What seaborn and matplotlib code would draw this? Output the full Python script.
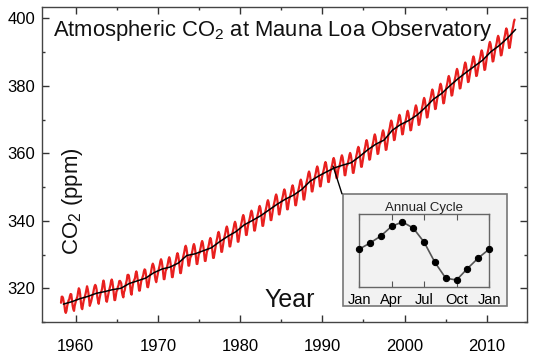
import numpy as np
import pandas as pd
import matplotlib
matplotlib.use('Agg')
import matplotlib.pyplot as plt
from matplotlib.patches import Rectangle, ConnectionPatch
from matplotlib.ticker import MultipleLocator
import seaborn as sns

# monthly mean CO2 (ppm), one row per year, Jan..Dec (1958 starts in March, 2013 ends in May)
years = list(range(1958, 2014))
monthly_co2 = [
    [None, None, 315.7, 317.5, 317.5, 317.1, 315.9, 314.9, 313.2, 312.7, 313.3, 314.7],  # 1958
    [315.6, 316.4, 316.7, 317.7, 318.3, 318.2, 316.5, 314.8, 313.8, 313.3, 314.8, 315.6],
    [316.4, 317.0, 317.6, 319.0, 320.0, 319.6, 318.2, 315.9, 314.2, 313.8, 315.0, 316.2],  # 1960
    [316.9, 317.7, 318.5, 319.5, 320.6, 319.8, 318.6, 316.8, 314.8, 315.4, 316.1, 317.0],
    [317.9, 318.6, 319.7, 320.6, 321.0, 320.6, 319.6, 317.4, 316.3, 315.4, 316.7, 317.7],
    [318.7, 319.1, 319.9, 321.4, 322.3, 321.5, 319.7, 317.8, 316.2, 316.0, 317.1, 318.3],
    [319.2, 320.0, 320.8, 322.0, 322.6, 322.0, 320.4, 318.3, 316.5, 316.5, 317.7, 319.1],
    [319.4, 320.4, 320.9, 322.1, 322.2, 321.9, 321.4, 318.8, 317.8, 317.3, 318.9, 319.4],
    [320.6, 321.6, 322.4, 323.9, 324.0, 323.8, 322.4, 320.4, 318.6, 318.1, 319.8, 321.1],
    [322.1, 322.5, 323.0, 324.4, 325.0, 324.1, 322.6, 320.9, 319.3, 319.3, 320.7, 322.0],
    [322.6, 323.2, 323.9, 325.0, 325.6, 325.4, 324.1, 322.0, 320.4, 320.3, 321.3, 322.8],
    [324.0, 324.4, 325.6, 326.7, 327.3, 326.8, 325.9, 323.7, 322.4, 321.8, 322.9, 324.1],
    [325.0, 325.9, 326.8, 328.0, 328.6, 328.0, 326.6, 324.5, 322.7, 322.7, 324.0, 325.5],  # 1970
    [325.6, 326.5, 327.4, 328.6, 329.2, 328.6, 327.2, 325.1, 323.3, 323.3, 324.6, 326.1],
    [326.8, 327.7, 328.6, 329.8, 330.4, 329.8, 328.4, 326.3, 324.5, 324.5, 325.8, 327.3],
    [329.0, 329.9, 330.8, 332.0, 332.6, 332.0, 330.6, 328.5, 326.7, 326.7, 328.0, 329.5],
    [329.5, 330.4, 331.3, 332.5, 333.1, 332.5, 331.1, 329.0, 327.2, 327.2, 328.5, 330.0],
    [330.4, 331.3, 332.2, 333.4, 334.0, 333.4, 332.0, 329.9, 328.1, 328.1, 329.4, 330.9],
    [331.3, 332.2, 333.1, 334.3, 334.9, 334.3, 332.9, 330.8, 329.0, 329.0, 330.3, 331.8],
    [333.1, 334.0, 334.9, 336.1, 336.7, 336.1, 334.7, 332.6, 330.8, 330.8, 332.1, 333.6],
    [334.7, 335.6, 336.5, 337.7, 338.3, 337.7, 336.3, 334.2, 332.4, 332.4, 333.7, 335.2],
    [336.1, 337.0, 337.9, 339.1, 339.7, 339.1, 337.7, 335.6, 333.8, 333.8, 335.1, 336.6],
    [338.1, 339.0, 339.9, 341.1, 341.7, 341.1, 339.7, 337.6, 335.8, 335.8, 337.1, 338.6],  # 1980
    [339.4, 340.3, 341.2, 342.4, 343.0, 342.4, 341.0, 338.9, 337.1, 337.1, 338.4, 339.9],
    [340.8, 341.7, 342.6, 343.8, 344.4, 343.8, 342.4, 340.3, 338.5, 338.5, 339.8, 341.3],
    [342.5, 343.4, 344.3, 345.5, 346.1, 345.5, 344.1, 342.0, 340.2, 340.2, 341.5, 343.0],
    [344.2, 345.1, 346.0, 347.2, 347.8, 347.2, 345.8, 343.7, 341.9, 341.9, 343.2, 344.7],
    [345.7, 346.6, 347.5, 348.7, 349.3, 348.7, 347.3, 345.2, 343.4, 343.4, 344.7, 346.2],
    [346.9, 347.8, 348.7, 349.9, 350.5, 349.9, 348.5, 346.4, 344.6, 344.6, 345.9, 347.4],
    [348.6, 349.5, 350.4, 351.6, 352.2, 351.6, 350.2, 348.1, 346.3, 346.3, 347.6, 349.1],
    [351.0, 351.9, 352.8, 354.0, 354.6, 354.0, 352.6, 350.5, 348.7, 348.7, 350.0, 351.5],
    [352.5, 353.4, 354.3, 355.5, 356.1, 355.5, 354.1, 352.0, 350.2, 350.2, 351.5, 353.0],
    [353.8, 354.7, 355.6, 356.8, 357.4, 356.8, 355.4, 353.3, 351.5, 351.5, 352.8, 354.3],  # 1990
    [355.0, 355.9, 356.8, 358.0, 358.6, 358.0, 356.6, 354.5, 352.7, 352.7, 354.0, 355.5],
    [355.8, 356.7, 357.6, 358.8, 359.4, 358.8, 357.4, 355.3, 353.5, 353.5, 354.8, 356.3],
    [356.5, 357.4, 358.3, 359.5, 360.1, 359.5, 358.1, 356.0, 354.2, 354.2, 355.5, 357.0],
    [358.3, 359.2, 360.1, 361.3, 361.9, 361.3, 359.9, 357.8, 356.0, 356.0, 357.3, 358.8],
    [360.1, 361.0, 361.9, 363.2, 363.9, 363.3, 361.9, 359.8, 358.1, 358.2, 359.5, 361.0],
    [361.8, 362.7, 363.6, 364.9, 365.6, 365.0, 363.6, 361.5, 359.8, 359.9, 361.2, 362.7],
    [363.0, 363.9, 364.8, 366.1, 366.8, 366.2, 364.8, 362.7, 361.0, 361.1, 362.4, 363.9],
    [365.9, 366.8, 367.7, 369.0, 369.7, 369.1, 367.7, 365.6, 363.9, 364.0, 365.3, 366.8],
    [367.6, 368.5, 369.4, 370.7, 371.4, 370.8, 369.4, 367.3, 365.6, 365.7, 367.0, 368.5],
    [368.8, 369.7, 370.6, 371.9, 372.6, 372.0, 370.6, 368.5, 366.8, 366.9, 368.2, 369.7],  # 2000
    [370.4, 371.3, 372.2, 373.5, 374.2, 373.6, 372.2, 370.1, 368.4, 368.5, 369.8, 371.3],
    [372.6, 373.5, 374.4, 375.7, 376.4, 375.8, 374.4, 372.3, 370.6, 370.7, 372.0, 373.5],
    [375.1, 376.0, 376.9, 378.2, 378.9, 378.3, 376.9, 374.8, 373.1, 373.2, 374.5, 376.0],
    [376.8, 377.7, 378.6, 379.9, 380.6, 380.0, 378.6, 376.5, 374.8, 374.9, 376.2, 377.7],
    [379.1, 380.0, 380.9, 382.2, 382.9, 382.3, 380.9, 378.8, 377.1, 377.2, 378.5, 380.0],
    [381.2, 382.1, 383.0, 384.3, 385.0, 384.4, 383.0, 380.9, 379.2, 379.3, 380.6, 382.1],
    [383.1, 384.0, 384.9, 386.2, 386.9, 386.3, 384.9, 382.8, 381.1, 381.2, 382.5, 384.0],
    [384.9, 385.8, 386.7, 388.0, 388.7, 388.1, 386.7, 384.6, 382.9, 383.0, 384.3, 385.8],
    [386.7, 387.6, 388.5, 389.8, 390.5, 389.9, 388.5, 386.4, 384.7, 384.8, 386.1, 387.6],
    [389.2, 390.1, 391.0, 392.3, 393.0, 392.4, 391.0, 388.9, 387.2, 387.3, 388.6, 390.1],  # 2010
    [391.0, 391.9, 392.8, 394.1, 394.8, 394.2, 392.8, 390.7, 389.0, 389.1, 390.4, 391.9],
    [393.2, 394.1, 395.0, 396.3, 397.0, 396.4, 395.0, 392.9, 391.2, 391.3, 392.6, 394.1],
    [395.8, 396.7, 397.6, 398.9, 399.6, None, None, None, None, None, None, None],  # 2013
]

# annual (deseasonalized) mean, black line
annual_mean = [315.3, 316.0, 316.9, 317.6, 318.5, 319.0, 319.6, 320.0, 321.4, 322.2,
               323.0, 324.6, 325.7, 326.3, 327.5, 329.7, 330.2, 331.1, 332.0, 333.8,
               335.4, 336.8, 338.8, 340.1, 341.5, 343.2, 344.9, 346.4, 347.6, 349.3,
               351.7, 353.2, 354.5, 355.7, 356.5, 357.2, 359.0, 361.0, 362.7, 363.9,
               366.8, 368.5, 369.7, 371.3, 373.5, 376.0, 377.7, 380.0, 382.1, 384.0,
               385.8, 387.6, 390.1, 391.9, 394.1, 396.7]

# inset: average annual cycle (ppm anomaly), Jan..Jan
cycle_labels = ['Jan', 'Apr', 'Jul', 'Oct', 'Jan']
cycle_values = [0.2, 0.9, 1.7, 2.8, 3.3, 2.6, 1.0, -1.3, -3.1, -3.3, -2.0, -0.8, 0.2]

rows = []
for y, vals in zip(years, monthly_co2):
    for m, v in enumerate(vals):
        if v is not None:
            rows.append((y + (m + 0.5) / 12, v))
df = pd.DataFrame(rows, columns=['t', 'co2'])
ann = pd.DataFrame({'t': np.array(years) + 0.5, 'co2': annual_mean})
cyc = pd.DataFrame({'m': np.arange(len(cycle_values)), 'v': cycle_values})

sns.set_style('ticks')
plt.rcParams['font.family'] = ['Liberation Sans', 'DejaVu Sans']
plt.rcParams['mathtext.fontset'] = 'custom'
plt.rcParams['mathtext.rm'] = 'Liberation Sans'

fig = plt.figure(figsize=(5.36, 3.57), dpi=100)
ax = fig.add_axes([0.0784, 0.098, 0.905, 0.882])

sns.lineplot(data=df, x='t', y='co2', color='#e8201f', lw=1.6, estimator=None, ax=ax)
sns.lineplot(data=ann, x='t', y='co2', color='black', lw=1.1, estimator=None, ax=ax)

ax.set_xlim(1955.9, 2014.9)
ax.set_ylim(310, 403.3)
ax.xaxis.set_major_locator(MultipleLocator(10))
ax.xaxis.set_minor_locator(MultipleLocator(5))
ax.yaxis.set_major_locator(MultipleLocator(20))
ax.yaxis.set_minor_locator(MultipleLocator(10))
ax.tick_params(which='both', direction='in', top=True, right=True, colors='#333333',
               labelsize=12, labelcolor='black')
ax.tick_params(which='major', length=5, width=1)
ax.tick_params(which='minor', length=2.5, width=1)
ax.tick_params(axis='x', pad=12)
ax.tick_params(axis='y', pad=5)
ax.set_xlabel('')
ax.set_ylabel('')
for s in ax.spines.values():
    s.set_color('#444444')
    s.set_linewidth(1)

ax.text(0.022, 0.925, r'Atmospheric CO$_\mathrm{2}$ at Mauna Loa Observatory',
        transform=ax.transAxes, fontsize=15.8, color='#111111', va='center')
ax.text(0.062, 0.385, r'CO$_\mathrm{2}$ (ppm)', transform=ax.transAxes, rotation=90,
        fontsize=16, ha='center', va='center', color='#111111', fontweight='light')
ax.text(0.51, 0.07, 'Year', transform=ax.transAxes, fontsize=18,
        ha='center', va='center', color='#111111', fontweight='light')

# inset box, drawn below the inset axes
box = Rectangle((0.640, 0.143), 0.306, 0.314, transform=fig.transFigure,
                facecolor='#f2f2f2', edgecolor='#777777', lw=1.2, zorder=1)
fig.add_artist(box)
con = ConnectionPatch(xyA=(1991.3, 356.2), coordsA=ax.transData,
                      xyB=(0.638, 0.457), coordsB=fig.transFigure,
                      color='black', lw=1, zorder=1)
fig.add_artist(con)

iax = fig.add_axes([0.670, 0.196, 0.2425, 0.2045])
iax.set_zorder(2)
iax.set_facecolor('#f2f2f2')
sns.lineplot(data=cyc, x='m', y='v', color='#555555', lw=1.2, marker='o',
             markersize=4.5, markerfacecolor='black', markeredgecolor='black',
             estimator=None, ax=iax, clip_on=False, zorder=5)
iax.set_xlim(0, 12)
iax.set_ylim(-4.1, 4.2)
iax.set_xticks([0, 3, 6, 9, 12])
iax.set_xticklabels(cycle_labels)
iax.set_yticks([])
iax.tick_params(axis='x', direction='in', top=True, length=4, labelsize=10.5,
                colors='#555555', labelcolor='black', pad=4)
iax.set_xlabel('')
iax.set_ylabel('')
iax.set_title('Annual Cycle', fontsize=9.5, pad=2, color='#222222')
for s in iax.spines.values():
    s.set_color('#666666')
    s.set_linewidth(1)

fig.savefig('out.png', dpi=100)
